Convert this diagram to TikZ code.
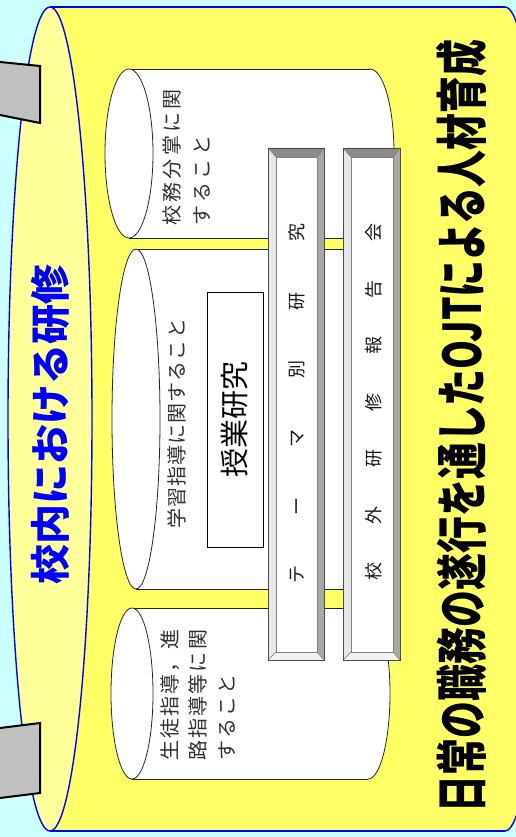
\documentclass[tikz,border=0pt]{standalone}
\usepackage{fontspec}
\newfontfamily\jp{Noto Sans CJK JP}
\definecolor{bgcyan}{HTML}{CCFFFF}
\definecolor{scrollyellow}{HTML}{FFFF66}
\definecolor{capyellow}{HTML}{FFFF99}
\definecolor{tabgray}{HTML}{C0C0C0}
\definecolor{labelgray}{HTML}{303030}
\definecolor{bevtop}{HTML}{8C8C8C}
\definecolor{bevleft}{HTML}{E8E8E8}
\definecolor{bevright}{HTML}{A8A8A8}
\definecolor{bevbottom}{HTML}{F2F2F2}
\makeatletter
\newcommand\spacedtext[2]{\@tfor\sp@ch:=#2\do{\sp@ch\hspace{#1}}}
\makeatother
\newcommand\bevelbar[8]{%
  \fill[bevtop] (#1,#2)--(#3,#2)--(#7,#6)--(#5,#6)--cycle;
  \fill[bevleft] (#1,#2)--(#5,#6)--(#5,#8)--(#1,#4)--cycle;
  \fill[bevright] (#3,#2)--(#3,#4)--(#7,#8)--(#7,#6)--cycle;
  \fill[bevbottom] (#1,#4)--(#5,#8)--(#7,#8)--(#3,#4)--cycle;
  \draw[black!55, line width=0.5pt] (#1,#2)--(#5,#6) (#3,#2)--(#7,#6) (#1,#4)--(#5,#8) (#3,#4)--(#7,#8);
  \draw[black!50, line width=0.6pt, fill=white] (#5,#6) rectangle (#7,#8);
  \draw[black!70, line width=0.7pt] (#1,#2) rectangle (#3,#4);
}
\begin{document}
\begin{tikzpicture}[x=1pt,y=-1pt,
  cyl/.style={draw=black!85, line width=0.8pt},
  rimline/.style={draw=blue, line width=1.4pt},
  tabshape/.style={fill=tabgray},
  cyltext/.style={rotate=90, anchor=base west, inner sep=0pt, text=labelgray, font=\jp\fontsize{20}{20}\selectfont},
  bartext/.style={rotate=90, anchor=base west, inner sep=0pt, text=black!90, font=\jp\fontsize{18}{18}\selectfont}]
\useasboundingbox (0,0) rectangle (516,837);
\fill[bgcyan] (0,0) rectangle (516,837);

% big yellow scroll
\draw[rimline, fill=scrollyellow] (505,419) ellipse [x radius=42, y radius=412];
\fill[scrollyellow] (50,7) rectangle (505,831);
\draw[rimline] (50,7) -- (505,7) (50,831) -- (505,831);
\draw[rimline, fill=capyellow] (50,419) ellipse [x radius=42, y radius=412];

% gray tabs
\fill[tabshape] (0,62) -- (40,66) -- (40,123) -- (0,115) -- cycle;
\draw[black, line width=2pt] (0,62) -- (40,66) -- (40,123) -- (0,115);
\fill[tabshape] (0,728) -- (40,723) -- (40,793) -- (0,798) -- cycle;
\draw[black, line width=2pt] (0,728) -- (40,723) -- (40,793) -- (0,798);

\node[rotate=90, inner sep=0pt, text=blue, font=\jp\bfseries\fontsize{40}{40}\selectfont] (inhouse) at (50,424) {校内における研修};

% white cylinders
\draw[cyl, fill=white] (370,153.5) ellipse [x radius=24, y radius=84.5];
\fill[white] (129,69) rectangle (370,238);
\draw[cyl] (129,69) -- (370,69) (129,238) -- (370,238);
\draw[cyl, fill=white] (129,153.5) ellipse [x radius=24, y radius=84.5];

\draw[cyl, fill=white] (370,419) ellipse [x radius=24, y radius=170];
\fill[white] (136,249) rectangle (370,589);
\draw[cyl] (136,249) -- (370,249) (136,589) -- (370,589);
\draw[cyl, fill=white] (136,419) ellipse [x radius=24, y radius=170];

\draw[cyl, fill=white] (368,693.5) ellipse [x radius=22, y radius=85.5];
\fill[white] (132,608) rectangle (368,779);
\draw[cyl] (132,608) -- (368,608) (132,779) -- (368,779);
\draw[cyl, fill=white] (132,693.5) ellipse [x radius=21, y radius=85.5];

% cylinder labels
\node[cyltext] (duty1) at (179.6,226) {\spacedtext{3.3pt}{校務分掌に関}};
\node[cyltext] (duty2) at (209.6,226) {\spacedtext{3.3pt}{すること}};
\node[cyltext] (study) at (184.6,529) {\spacedtext{1.1pt}{学習指導に関すること}};
\node[cyltext] (guid1) at (177.6,761) {\spacedtext{2.2pt}{生徒指導，進}};
\node[cyltext] (guid2) at (205.6,761) {\spacedtext{2.2pt}{路指導等に関}};
\node[cyltext] (guid3) at (234.6,761) {\spacedtext{2.2pt}{すること}};

% lesson study box
\node[draw=black, line width=0.8pt, fill=white, rotate=90, minimum width=255pt, minimum height=56pt, inner sep=0pt, font=\jp\fontsize{29}{29}\selectfont] (lesson) at (235,419.5) {授業研究};

% bevelled bars
\bevelbar{268}{148}{324}{660}{276}{157}{317}{652}
\bevelbar{343}{148}{400}{660}{351}{157}{393}{652}
\node[bartext] (theme) at (303,584) {\spacedtext{50.4pt}{テーマ別研究}};
\node[bartext] (report) at (380,581) {\spacedtext{38.5pt}{校外研修報告会}};

% main title
\node[rotate=90, inner sep=0pt, text=black, font=\jp\bfseries\fontsize{52}{52}\selectfont] (title) at (462,426) {\scalebox{0.71}[1]{日常の職務の遂行を通したOJTによる人材育成}};
\end{tikzpicture}
\end{document}
